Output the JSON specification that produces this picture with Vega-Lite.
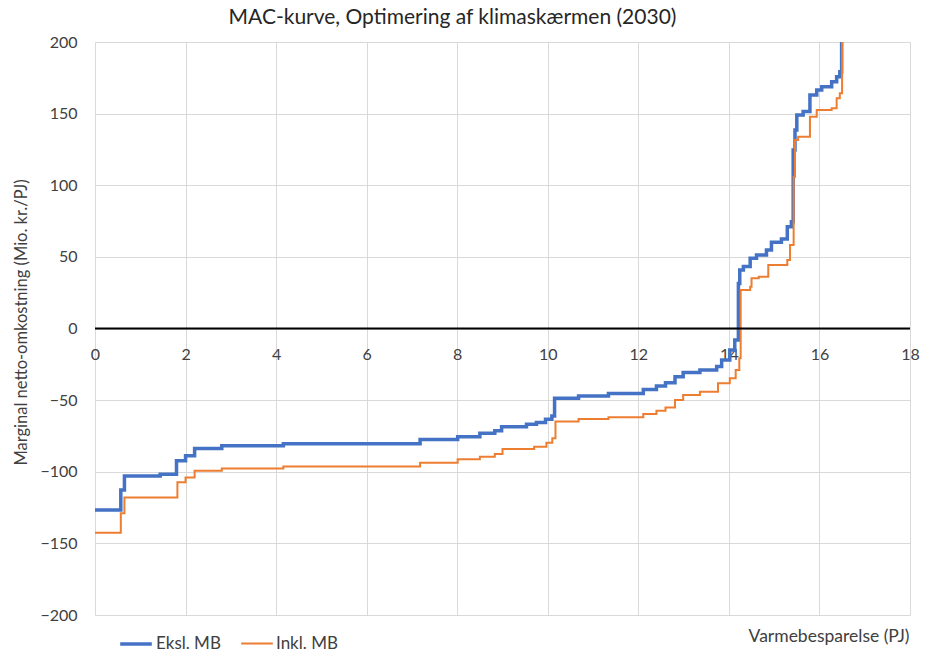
{
  "$schema": "https://vega.github.io/schema/vega-lite/v6.json",
  "width": 815,
  "height": 573,
  "autosize": "none",
  "padding": {"left": 95, "top": 42, "right": 21, "bottom": 39},
  "background": "white",
  "config": {
    "view": {"stroke": null},
    "font": "Lato",
    "axis": {"labelFont": "Lato", "titleFont": "Lato"}
  },
  "title": {
    "text": "MAC-kurve, Optimering af klimaskærmen (2030)",
    "font": "Lato",
    "fontSize": 21,
    "fontWeight": "normal",
    "color": "#262626",
    "anchor": "middle",
    "dx": -50,
    "offset": 6
  },
  "datasets": {
    "curves": [
      {"serie": "Eksl. MB", "x": 0, "y": -126.7},
      {"serie": "Eksl. MB", "x": 0.57, "y": -112.7},
      {"serie": "Eksl. MB", "x": 0.65, "y": -103},
      {"serie": "Eksl. MB", "x": 1.44, "y": -101.8},
      {"serie": "Eksl. MB", "x": 1.8, "y": -92.3},
      {"serie": "Eksl. MB", "x": 2.0, "y": -88.8},
      {"serie": "Eksl. MB", "x": 2.2, "y": -83.7},
      {"serie": "Eksl. MB", "x": 2.8, "y": -81.8},
      {"serie": "Eksl. MB", "x": 4.16, "y": -80.4},
      {"serie": "Eksl. MB", "x": 7.18, "y": -77.4},
      {"serie": "Eksl. MB", "x": 8.01, "y": -75.5},
      {"serie": "Eksl. MB", "x": 8.5, "y": -73.2},
      {"serie": "Eksl. MB", "x": 8.83, "y": -71.3},
      {"serie": "Eksl. MB", "x": 8.98, "y": -68.5},
      {"serie": "Eksl. MB", "x": 9.53, "y": -66.9},
      {"serie": "Eksl. MB", "x": 9.75, "y": -65.7},
      {"serie": "Eksl. MB", "x": 9.95, "y": -63.4},
      {"serie": "Eksl. MB", "x": 10.09, "y": -61},
      {"serie": "Eksl. MB", "x": 10.15, "y": -48.7},
      {"serie": "Eksl. MB", "x": 10.68, "y": -47.1},
      {"serie": "Eksl. MB", "x": 11.34, "y": -45.3},
      {"serie": "Eksl. MB", "x": 12.11, "y": -42.5},
      {"serie": "Eksl. MB", "x": 12.4, "y": -40.2},
      {"serie": "Eksl. MB", "x": 12.6, "y": -37.8},
      {"serie": "Eksl. MB", "x": 12.81, "y": -33.6},
      {"serie": "Eksl. MB", "x": 12.99, "y": -30.8},
      {"serie": "Eksl. MB", "x": 13.36, "y": -29},
      {"serie": "Eksl. MB", "x": 13.73, "y": -26.6},
      {"serie": "Eksl. MB", "x": 13.84, "y": -22},
      {"serie": "Eksl. MB", "x": 14.02, "y": -15},
      {"serie": "Eksl. MB", "x": 14.13, "y": -8},
      {"serie": "Eksl. MB", "x": 14.21, "y": 31.5},
      {"serie": "Eksl. MB", "x": 14.24, "y": 40.8},
      {"serie": "Eksl. MB", "x": 14.32, "y": 43.2},
      {"serie": "Eksl. MB", "x": 14.47, "y": 49},
      {"serie": "Eksl. MB", "x": 14.61, "y": 51.3},
      {"serie": "Eksl. MB", "x": 14.83, "y": 54.8},
      {"serie": "Eksl. MB", "x": 14.94, "y": 60.2},
      {"serie": "Eksl. MB", "x": 15.16, "y": 62.5},
      {"serie": "Eksl. MB", "x": 15.29, "y": 71.1},
      {"serie": "Eksl. MB", "x": 15.38, "y": 74.6},
      {"serie": "Eksl. MB", "x": 15.42, "y": 124.6},
      {"serie": "Eksl. MB", "x": 15.46, "y": 138.6},
      {"serie": "Eksl. MB", "x": 15.5, "y": 149},
      {"serie": "Eksl. MB", "x": 15.64, "y": 151.4},
      {"serie": "Eksl. MB", "x": 15.79, "y": 163},
      {"serie": "Eksl. MB", "x": 15.94, "y": 166.5},
      {"serie": "Eksl. MB", "x": 16.05, "y": 168.8},
      {"serie": "Eksl. MB", "x": 16.27, "y": 172.3},
      {"serie": "Eksl. MB", "x": 16.38, "y": 175.8},
      {"serie": "Eksl. MB", "x": 16.45, "y": 179.3},
      {"serie": "Eksl. MB", "x": 16.49, "y": 400},
      {"serie": "Eksl. MB", "x": 16.5, "y": 400},
      {"serie": "Inkl. MB", "x": 0, "y": -142.5},
      {"serie": "Inkl. MB", "x": 0.57, "y": -129},
      {"serie": "Inkl. MB", "x": 0.65, "y": -117.9},
      {"serie": "Inkl. MB", "x": 1.82, "y": -107.4},
      {"serie": "Inkl. MB", "x": 2.0, "y": -104.1},
      {"serie": "Inkl. MB", "x": 2.2, "y": -99.3},
      {"serie": "Inkl. MB", "x": 2.8, "y": -97.8},
      {"serie": "Inkl. MB", "x": 4.16, "y": -96.3},
      {"serie": "Inkl. MB", "x": 7.18, "y": -93.7},
      {"serie": "Inkl. MB", "x": 8.01, "y": -91.3},
      {"serie": "Inkl. MB", "x": 8.5, "y": -89.5},
      {"serie": "Inkl. MB", "x": 8.83, "y": -87.6},
      {"serie": "Inkl. MB", "x": 9.0, "y": -84.1},
      {"serie": "Inkl. MB", "x": 9.7, "y": -82.5},
      {"serie": "Inkl. MB", "x": 9.97, "y": -79.7},
      {"serie": "Inkl. MB", "x": 10.1, "y": -76.7},
      {"serie": "Inkl. MB", "x": 10.17, "y": -65},
      {"serie": "Inkl. MB", "x": 10.68, "y": -63.2},
      {"serie": "Inkl. MB", "x": 11.34, "y": -62},
      {"serie": "Inkl. MB", "x": 12.11, "y": -59.7},
      {"serie": "Inkl. MB", "x": 12.4, "y": -57.4},
      {"serie": "Inkl. MB", "x": 12.6, "y": -55.2},
      {"serie": "Inkl. MB", "x": 12.81, "y": -49.9},
      {"serie": "Inkl. MB", "x": 12.99, "y": -46.4},
      {"serie": "Inkl. MB", "x": 13.36, "y": -44.1},
      {"serie": "Inkl. MB", "x": 13.76, "y": -38.3},
      {"serie": "Inkl. MB", "x": 14.02, "y": -34.8},
      {"serie": "Inkl. MB", "x": 14.15, "y": -29},
      {"serie": "Inkl. MB", "x": 14.23, "y": -20.8},
      {"serie": "Inkl. MB", "x": 14.26, "y": 26.9},
      {"serie": "Inkl. MB", "x": 14.47, "y": 29.2},
      {"serie": "Inkl. MB", "x": 14.5, "y": 35},
      {"serie": "Inkl. MB", "x": 14.66, "y": 36.2},
      {"serie": "Inkl. MB", "x": 14.87, "y": 44.3},
      {"serie": "Inkl. MB", "x": 15.29, "y": 47.8},
      {"serie": "Inkl. MB", "x": 15.35, "y": 58.3},
      {"serie": "Inkl. MB", "x": 15.43, "y": 106},
      {"serie": "Inkl. MB", "x": 15.46, "y": 131.6},
      {"serie": "Inkl. MB", "x": 15.53, "y": 133.9},
      {"serie": "Inkl. MB", "x": 15.79, "y": 147.9},
      {"serie": "Inkl. MB", "x": 15.94, "y": 152.5},
      {"serie": "Inkl. MB", "x": 16.27, "y": 153.7},
      {"serie": "Inkl. MB", "x": 16.38, "y": 160.7},
      {"serie": "Inkl. MB", "x": 16.45, "y": 164.2},
      {"serie": "Inkl. MB", "x": 16.5, "y": 400},
      {"serie": "Inkl. MB", "x": 16.51, "y": 400}
    ],
    "zero": [{"y": 0}]
  },
  "layer": [
    {
      "data": {"name": "curves"},
      "mark": {"type": "line", "interpolate": "step-after", "clip": true},
      "encoding": {
        "x": {
          "field": "x",
          "type": "quantitative",
          "scale": {"domain": [0, 18], "nice": false, "zero": false},
          "axis": {
            "values": [0, 2, 4, 6, 8, 10, 12, 14, 16, 18],
            "grid": true,
            "gridColor": "#d9d9d9",
            "gridWidth": 1,
            "domain": false,
            "ticks": false,
            "offset": -286.5,
            "labelPadding": 18,
            "labelFlush": false,
            "labelBound": false,
            "labelOverlap": false,
            "labelFontSize": 16,
            "labelColor": "#404040",
            "title": "Varmebesparelse  (PJ)",
            "titleFontSize": 17.5,
            "titleFontWeight": "normal",
            "titleColor": "#404040",
            "titleAnchor": "end",
            "titleAlign": "right",
            "titleX": 814,
            "titleY": 308,
            "titleBaseline": "middle"
          }
        },
        "y": {
          "field": "y",
          "type": "quantitative",
          "scale": {"domain": [-200, 200], "nice": false},
          "axis": {
            "values": [-200, -150, -100, -50, 0, 50, 100, 150, 200],
            "grid": true,
            "gridColor": "#d9d9d9",
            "gridWidth": 1,
            "domain": false,
            "ticks": false,
            "labelPadding": 18,
            "labelFontSize": 16,
            "labelColor": "#404040",
            "title": "Marginal netto-omkostning (Mio. kr./PJ)",
            "titleFontSize": 16.5,
            "titleFontWeight": "normal",
            "titleColor": "#404040",
            "titlePadding": 10,
            "titleY": 280
          }
        },
        "color": {
          "field": "serie",
          "type": "nominal",
          "scale": {"domain": ["Eksl. MB", "Inkl. MB"], "range": ["#4472C4", "#ED7D31"]},
          "legend": {
            "title": null,
            "orient": "none",
            "legendX": 23,
            "legendY": 584,
            "direction": "horizontal",
            "symbolType": "stroke",
            "symbolSize": 1000,
            "symbolStrokeWidth": 3,
            "labelFontSize": 17,
            "labelColor": "#404040",
            "labelFont": "Lato",
            "columnPadding": 16,
            "labelOffset": 2
          }
        },
        "strokeWidth": {
          "field": "serie",
          "type": "nominal",
          "scale": {"domain": ["Eksl. MB", "Inkl. MB"], "range": [3.5, 2]},
          "legend": null
        },
        "order": {"field": "x", "type": "quantitative"}
      }
    },
    {
      "data": {"name": "zero"},
      "mark": {"type": "rule", "color": "black", "strokeWidth": 2},
      "encoding": {"y": {"field": "y", "type": "quantitative"}}
    }
  ]
}
